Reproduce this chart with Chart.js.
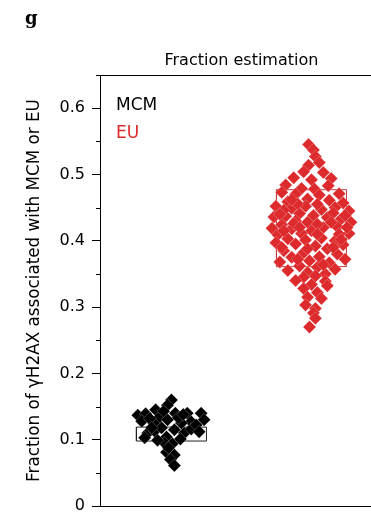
<!DOCTYPE html>
<html>
<head>
<meta charset="utf-8">
<script src="https://cdn.jsdelivr.net/npm/chart.js@4"></script>
<style>
  html, body { margin: 0; padding: 0; background: #fff; }
  #wrap { position: relative; width: 371px; height: 515px; overflow: hidden; }
  #chart { position: absolute; left: 0; top: 0; }
  .lab { position: absolute; white-space: nowrap; font-family: "DejaVu Sans", sans-serif; }
  #panel { left: 25px; top: 9px; font: bold 18px/18px "DejaVu Serif", serif; }
  #mcm { left: 116px; top: 96px; font-size: 17px; line-height: 17px; color: #000; }
  #eu { left: 116px; top: 124px; font-size: 17px; line-height: 17px; color: #dd2a2c; }
</style>
</head>
<body>
<div id="wrap">
  <canvas id="chart" width="390" height="515"></canvas>
  <div class="lab" id="panel">g</div>
  <div class="lab" id="mcm">MCM</div>
  <div class="lab" id="eu">EU</div>
</div>
<script>
const RED = "#dd2a2c";

// y tick values
const yMajor = [0, 0.1, 0.2, 0.3, 0.4, 0.5, 0.6];
const yMinor = [0.05, 0.15, 0.25, 0.35, 0.45, 0.55, 0.65];

// MCM points (x = group 1 plus swarm offset)
const mcmX = [1.000, 0.972, 0.760, 0.816, 0.887, 0.915, 1.113, 1.212, 1.233, 1.141,
              0.972, 1.028, 0.831, 0.880, 0.929, 0.965, 1.021, 1.092, 1.141, 1.177,
              0.809, 0.951, 1.007, 0.965, 1.021, 0.993, 1.021, 0.979, 1.064, 0.873,
              1.071, 0.788, 1.198, 0.901, 0.845, 1.049, 0.944, 1.085, 0.859];
const mcmY = [0.160, 0.152, 0.137, 0.139, 0.145, 0.134, 0.140, 0.140, 0.130, 0.127,
              0.130, 0.140, 0.110, 0.113, 0.118, 0.104, 0.115, 0.110, 0.116, 0.122,
              0.103, 0.095, 0.094, 0.081, 0.077, 0.070, 0.061, 0.088, 0.101, 0.125,
              0.125, 0.128, 0.112, 0.099, 0.132, 0.133, 0.143, 0.138, 0.118];

// EU points (x = group 2 plus swarm offset)
const euX = [1.979, 2.014, 2.028, 2.056, 1.979, 1.944, 2.085, 1.873, 2.000, 2.141,
             1.816, 2.120, 2.021, 1.929, 1.788, 1.887, 2.056, 2.198, 1.972, 2.127,
             1.831, 2.226, 1.746, 1.859, 1.958, 2.071, 2.169, 2.268, 1.915, 2.014,
             1.732, 1.816, 2.113, 2.212, 2.282, 1.972, 1.788, 1.887, 1.718, 1.859,
             2.085, 2.184, 2.000, 1.929, 2.268, 1.760, 1.831, 1.958, 2.071, 2.169,
             1.887, 2.028, 2.226, 1.746, 2.113, 1.802, 1.944, 2.184, 1.859, 2.056,
             2.240, 1.986, 2.127, 1.774, 1.915, 2.042, 2.169, 1.831, 1.972, 2.099,
             1.944, 2.028, 1.887, 2.099, 2.000, 1.944, 2.113, 2.042, 1.972, 2.071,
             1.958, 2.028, 2.014, 2.028, 1.986, 2.155, 1.802, 2.042, 1.901, 2.198,
             1.774, 2.240, 1.873, 2.141, 1.802, 2.042, 1.915, 2.212, 1.788, 1.972,
             2.155, 1.901, 2.085, 1.859, 2.042, 2.254];
const euY = [0.545, 0.537, 0.527, 0.518, 0.514, 0.504, 0.503, 0.495, 0.492, 0.494,
             0.484, 0.483, 0.478, 0.479, 0.473, 0.470, 0.469, 0.471, 0.463, 0.461,
             0.459, 0.457, 0.452, 0.449, 0.452, 0.447, 0.450, 0.445, 0.441, 0.438,
             0.436, 0.437, 0.435, 0.433, 0.428, 0.428, 0.424, 0.430, 0.419, 0.418,
             0.420, 0.421, 0.415, 0.411, 0.411, 0.409, 0.403, 0.401, 0.404, 0.400,
             0.395, 0.392, 0.394, 0.397, 0.388, 0.385, 0.382, 0.380, 0.375, 0.376,
             0.372, 0.370, 0.367, 0.368, 0.362, 0.360, 0.357, 0.355, 0.352, 0.350,
             0.345, 0.347, 0.340, 0.339, 0.334, 0.328, 0.332, 0.322, 0.315, 0.313,
             0.303, 0.298, 0.291, 0.283, 0.270, 0.442, 0.446, 0.425, 0.456, 0.410,
             0.440, 0.438, 0.426, 0.428, 0.415, 0.410, 0.420, 0.402, 0.390, 0.388,
             0.390, 0.372, 0.364, 0.462, 0.455, 0.420];

// boxes: [MCM, EU]
const boxLeft = [0.75, 1.75];
const boxRight = [1.25, 2.25];
const boxLow = [0.098, 0.361];
const boxHigh = [0.119, 0.477];

const toPts = (xs, ys) => xs.map((x, i) => ({ x: x, y: ys[i] }));
const boxPts = (i) => [
  { x: boxLeft[i], y: boxLow[i] }, { x: boxRight[i], y: boxLow[i] },
  { x: boxRight[i], y: boxHigh[i] }, { x: boxLeft[i], y: boxHigh[i] },
  { x: boxLeft[i], y: boxLow[i] },
];

// short minor ticks on the y axis
const minorTicks = {
  id: "minorTicks",
  afterDraw(chart) {
    const s = chart.scales.y;
    const ctx = chart.ctx;
    ctx.save();
    ctx.strokeStyle = "#000";
    ctx.lineWidth = 1;
    yMinor.forEach((v) => {
      const py = Math.round(s.getPixelForValue(v)) + 0.5;
      ctx.beginPath();
      ctx.moveTo(s.right - 4, py);
      ctx.lineTo(s.right, py);
      ctx.stroke();
    });
    ctx.restore();
  },
};

const flatX = (pos) => ({
  type: "linear", min: 0.49, max: 2.51, position: pos,
  grid: { display: false }, ticks: { display: false },
  border: { color: "#000", width: 1 },
  afterFit: (s) => { s.height = 0; s.paddingLeft = 0; s.paddingRight = 0; },
});

Chart.defaults.font.family = "'DejaVu Sans', sans-serif";
Chart.defaults.color = "#000";

new Chart(document.getElementById("chart"), {
  type: "scatter",
  data: {
    datasets: [
      {
        label: "MCM", data: toPts(mcmX, mcmY), order: 1,
        pointStyle: "rectRot", pointRadius: 6.5, pointHoverRadius: 6.5,
        backgroundColor: "#000", borderColor: "rgba(255,255,255,0.4)", borderWidth: 0.6,
      },
      {
        label: "EU", data: toPts(euX, euY), order: 2,
        pointStyle: "rectRot", pointRadius: 6.5, pointHoverRadius: 6.5,
        backgroundColor: RED, borderColor: "rgba(255,255,255,0.4)", borderWidth: 0.6,
      },
      {
        label: "MCM box", data: boxPts(0), order: 3, showLine: true,
        pointRadius: 0, borderColor: "#222", borderWidth: 1, fill: false,
      },
      {
        label: "EU box", data: boxPts(1), order: 4, showLine: true,
        pointRadius: 0, borderColor: "#c73a3c", borderWidth: 1, fill: false,
      },
    ],
  },
  options: {
    responsive: false,
    animation: false,
    devicePixelRatio: 1,
    layout: { padding: { left: 0, right: 4, top: 51, bottom: 9 } },
    plugins: {
      legend: { display: false },
      tooltip: { enabled: false },
      title: {
        display: true, text: "Fraction estimation", fullSize: false, color: "#000",
        font: { size: 16, weight: "normal" }, padding: { top: 0, bottom: 4.8 },
      },
    },
    scales: {
      x: flatX("bottom"),
      xTop: flatX("top"),
      y: {
        min: 0, max: 0.65,
        afterBuildTicks: (s) => { s.ticks = yMajor.map((v) => ({ value: v })); },
        afterFit: (s) => { s.width = 100; s.paddingTop = 0; s.paddingBottom = 0; },
        ticks: {
          callback: (v) => (v === 0 ? "0" : v.toFixed(1)),
          font: { size: 16 }, color: "#000", padding: 7,
        },
        grid: { drawOnChartArea: false, tickLength: 8, color: "#000", tickColor: "#000" },
        border: { color: "#000", width: 1 },
        title: {
          display: true, text: "Fraction of γH2AX associated with MCM or EU",
          color: "#000", font: { size: 16.8 }, padding: { top: 25, bottom: 0 },
        },
      },
    },
  },
  plugins: [minorTicks],
});
</script>
</body>
</html>
